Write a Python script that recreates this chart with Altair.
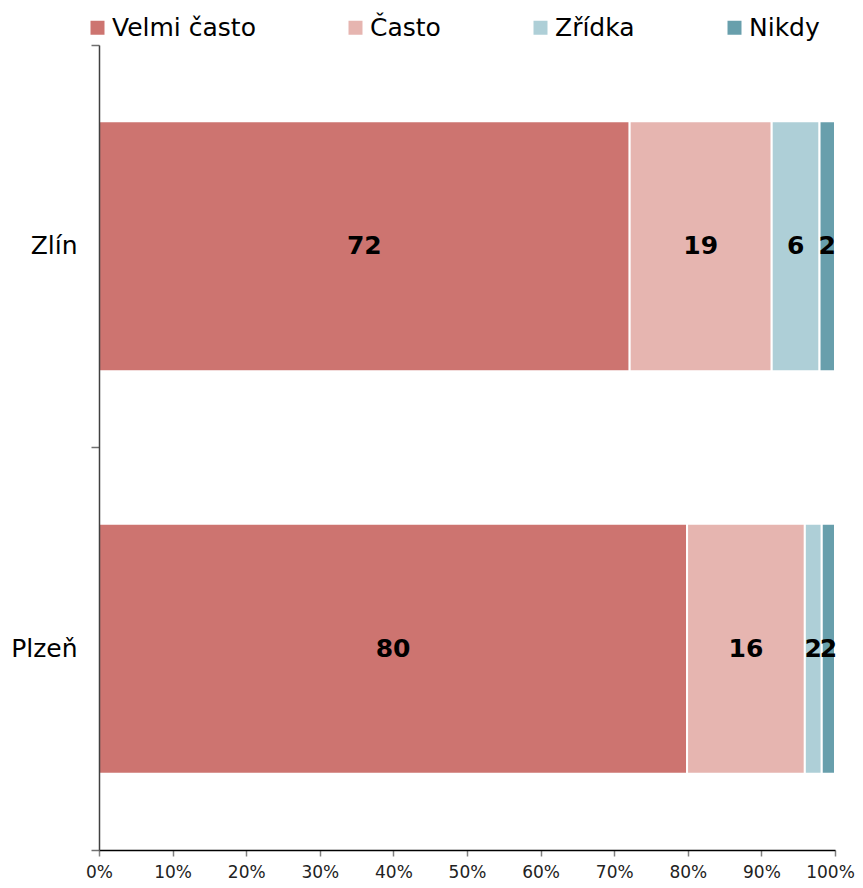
import altair as alt
import pandas as pd

cities = ["Zlín", "Plzeň"]
categories = ["Velmi často", "Často", "Zřídka", "Nikdy"]
colors = ["#CD7470", "#E6B5B0", "#AECFD7", "#689FAC"]
values_zlin = [72.1, 19.3, 6.5, 2.1]
values_plzen = [79.9, 16.0, 2.3, 1.8]
labels_zlin = [72, 19, 6, 2]
labels_plzen = [80, 16, 2, 2]

rows = []
for city, vals, labs in [("Zlín", values_zlin, labels_zlin), ("Plzeň", values_plzen, labels_plzen)]:
    for i, (cat, v, lab) in enumerate(zip(categories, vals, labs)):
        rows.append({"city": city, "cat": cat, "order": i, "value": v, "label": str(lab)})
df = pd.DataFrame(rows)

FONT = "DejaVu Sans"

base = alt.Chart(df).transform_stack(
    stack="value", as_=["x0", "x1"], groupby=["city"],
    sort=[alt.SortField("order", order="ascending")]
).transform_calculate(mid="(datum.x0 + datum.x1) / 2")

y_enc = alt.Y(
    "city:N", sort=cities, title=None,
    scale=alt.Scale(paddingInner=0, paddingOuter=0),
    axis=alt.Axis(
        labelFont=FONT, labelFontSize=25, labelColor="black", labelPadding=14,
        tickSize=8, tickColor="#707070", tickWidth=1.5,
        domainColor="#404040", domainWidth=1.5,
        bandPosition=1, tickExtra=True, zindex=1,
    ),
)

bars = base.mark_bar(size=250, stroke="white", strokeWidth=2).encode(
    y=y_enc,
    x=alt.X(
        "x0:Q", title=None,
        scale=alt.Scale(domain=[0, 100], nice=False),
        axis=alt.Axis(
            values=list(range(0, 101, 10)), labelExpr="datum.value + '%'",
            labelFont=FONT, labelFontSize=17, labelColor="#222222", labelPadding=8,
            labelOffset={"condition": {"test": "datum.value == 100", "value": -5}, "value": 0},
            tickSize=6, tickColor="#808080", tickWidth=1.5,
            domainColor="black", domainWidth=1.5, grid=False, zindex=1,
            labelFlush=False,
        ),
    ),
    x2="x1:Q",
    color=alt.Color(
        "cat:N", title=None,
        scale=alt.Scale(domain=categories, range=colors),
        legend=alt.Legend(
            orient="none", legendX=-14, legendY=-30, direction="horizontal",
            symbolType="square", symbolSize=196, symbolStrokeWidth=0,
            labelFont=FONT, labelFontSize=25, labelColor="black", labelOffset=2,
            columnPadding=87, labelLimit=300,
        ),
    ),
)

text = base.mark_text(font=FONT, fontWeight="bold", fontSize=25, color="black").encode(
    y=alt.Y("city:N", sort=cities),
    x="mid:Q",
    text="label:N",
)

chart = alt.layer(bars, text).properties(
    width=736, height=805,
    autosize=alt.AutoSizeParams(type="none"),
    padding={"left": 91, "top": 37, "right": 20, "bottom": 30},
).configure_view(stroke=None)

chart.save("out.html", embed_options={"renderer": "svg", "actions": False})
